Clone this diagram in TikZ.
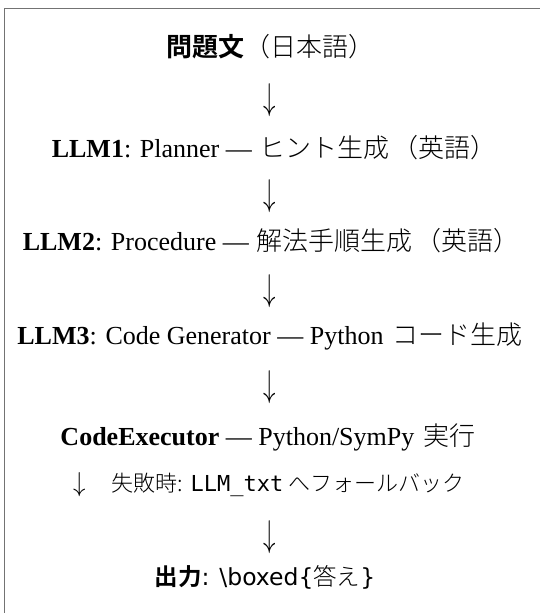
\documentclass[tikz,border=0pt]{standalone}
\usepackage{fontspec}
\setmainfont{Liberation Serif}
\IfFontExistsTF{Noto Sans CJK JP Light}
  {\newfontfamily\jp{Noto Sans CJK JP Light}}
  {\newfontfamily\jp{Noto Sans CJK JP}}
\newfontfamily\jpbold{Noto Sans CJK JP Bold}
\newfontfamily\mono{DejaVu Sans Mono}
\newfontfamily\dsans{DejaVu Sans}
\newcommand\darr[1]{\scalebox{1}[#1]{$\downarrow$}}
\tikzset{
  line/.style={anchor=base, inner sep=0pt, font=\fontsize{26}{30}\selectfont},
  small/.style={anchor=base, inner sep=0pt, font=\fontsize{22}{25}\selectfont},
  outline/.style={anchor=base, inner sep=0pt, font=\fontsize{23.5}{26}\selectfont},
  arr/.style={anchor=center, inner sep=0pt, font=\fontsize{38}{40}\selectfont},
  frame/.style={draw=black!55, line width=1.5pt}
}
\begin{document}
\begin{tikzpicture}[x=1pt,y=1pt]
\useasboundingbox (0,0) rectangle (540,-613);
\clip (0,0) rectangle (540,-613);
\draw[frame] (4.5,-8.7) rectangle (560,-640);
\node[line] (q) at (270,-56) {{\jpbold 問題文}{\jp （日本語）}};
\node[arr] (a1) at (270,-100) {\darr{1.5}};
\node[line] (l1) at (274,-157) {\textbf{LLM1}: Planner —\hspace{0.3em}{\jp ヒント生成\hspace{0.1em}（英語）}};
\node[arr] (a2) at (270,-196) {\darr{1.5}};
\node[line] (l2) at (271,-250) {\textbf{LLM2}: Procedure —\hspace{0.3em}{\jp 解法手順生成\hspace{0.1em}（英語）}};
\node[arr] (a3) at (270,-291) {\darr{1.5}};
\node[line] (l3) at (270,-344) {\textbf{LLM3}: Code Generator — Python\hspace{0.35em}{\jp コード生成}};
\node[arr] (a4) at (270,-387) {\darr{1.5}};
\node[line] (l4) at (268,-445) {\textbf{CodeExecutor} — Python/SymPy\hspace{0.35em}{\jp 実行}};
\node[small] (fb) at (269,-491) {{\fontsize{38}{40}\selectfont\darr{1.1}}\hspace{1.2em}{\jp 失敗時:} {\mono LLM\_txt} {\jp へフォールバック}};
\node[arr] (a5) at (270,-537) {\darr{1.5}};
\node[outline] (out) at (265,-585) {{\jpbold 出力}{\dsans : \textbackslash boxed\{}{\jp 答え}{\dsans \}}};
\end{tikzpicture}
\end{document}
